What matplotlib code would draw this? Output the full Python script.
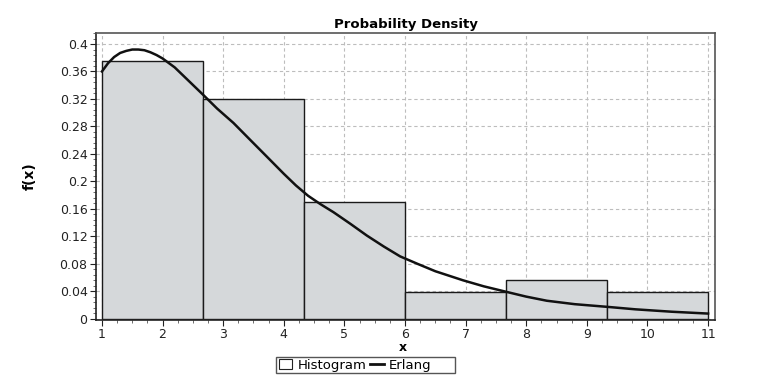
import matplotlib.pyplot as plt
from matplotlib.ticker import MultipleLocator, AutoMinorLocator
from matplotlib.patches import Patch, Rectangle
from matplotlib.lines import Line2D

# histogram bins (edges) and densities
bin_edges = [1.0, 2.6667, 4.3333, 6.0, 7.6667, 9.3333, 11.0]
hist_density = [0.376, 0.3195, 0.170, 0.0388, 0.0567, 0.0388]

# fitted Erlang curve
erlang_x = [1.0, 1.1, 1.2, 1.3, 1.4, 1.5, 1.6, 1.7, 1.8, 1.9, 2.0, 2.2, 2.4, 2.67, 2.9, 3.17,
            3.45, 3.72, 4.0, 4.2, 4.4, 4.6, 4.82, 5.1, 5.37, 5.65, 5.92, 6.2, 6.5, 6.96, 7.3,
            7.68, 8.0, 8.34, 8.8, 9.35, 9.8, 10.4, 11.0]
erlang_y = [0.360, 0.372, 0.381, 0.387, 0.390, 0.392, 0.392, 0.391, 0.388, 0.384, 0.379, 0.366,
            0.349, 0.326, 0.306, 0.285, 0.260, 0.236, 0.211, 0.194, 0.179, 0.167, 0.155,
            0.138, 0.121, 0.105, 0.0906, 0.080, 0.069, 0.0557, 0.047, 0.0388, 0.032, 0.0260,
            0.0210, 0.0170, 0.0135, 0.0100, 0.0073]

bar_fill = '#d5d8da'
edge = '#1a1a1a'

fig = plt.figure(figsize=(7.61, 3.80), dpi=100)
ax = fig.add_axes([0.126, 0.158, 0.814, 0.755])

widths = [bin_edges[i + 1] - bin_edges[i] for i in range(len(hist_density))]
ax.bar(bin_edges[:-1], hist_density, width=widths, align='edge',
       color=bar_fill, edgecolor=edge, linewidth=1.0, zorder=2)
ax.plot(erlang_x, erlang_y, color='#111111', linewidth=1.8, zorder=3)

ax.set_xlim(0.9, 11.12)
ax.set_ylim(-0.002, 0.416)
ax.xaxis.set_major_locator(MultipleLocator(1))
ax.xaxis.set_minor_locator(AutoMinorLocator(4))
ax.yaxis.set_minor_locator(AutoMinorLocator(5))
ax.set_yticks([0, 0.04, 0.08, 0.12, 0.16, 0.2, 0.24, 0.28, 0.32, 0.36, 0.4])
ax.set_yticklabels(['0', '0.04', '0.08', '0.12', '0.16', '0.2', '0.24', '0.28', '0.32', '0.36', '0.4'])

ax.grid(True, which='major', color='#bdbdbd', linestyle=(0, (3, 2.5)), linewidth=0.8, zorder=0)
ax.set_axisbelow(True)
ax.tick_params(which='major', direction='out', length=4, labelsize=9, colors='#222222', pad=2)
ax.tick_params(which='minor', direction='out', length=2, colors='#555555')

for side in ['left', 'bottom']:
    ax.spines[side].set_color('#222222')
    ax.spines[side].set_linewidth(1.2)
for side in ['top', 'right']:
    ax.spines[side].set_color('#555555')
    ax.spines[side].set_linewidth(1.2)

ax.set_title('Probability Density', fontsize=9.5, fontweight='bold', pad=4)
ax.set_xlabel('x', fontsize=9, fontweight='bold')
ax.xaxis.set_label_coords(0.496, -0.072)
ax.set_ylabel('f(x)', fontsize=10, fontweight='bold')
ax.yaxis.set_label_coords(-0.095, 0.5)

# legend box (frame drawn separately so it is as wide as in the original)
fig.patches.append(Rectangle((276 / 761, 1 - 373 / 380), 179 / 761, 16 / 380,
                             transform=fig.transFigure, facecolor='white',
                             edgecolor='#555555', linewidth=1.0, zorder=1))
handles = [Patch(facecolor='white', edgecolor='#222222', linewidth=0.8, label='Histogram'),
           Line2D([0], [0], color='#111111', linewidth=2, label='Erlang')]
leg = fig.legend(handles=handles, loc='center left', bbox_to_anchor=(279 / 761, 1 - 365 / 380),
                 ncol=2, fontsize=9.5, frameon=False,
                 handlelength=1.0, handleheight=0.8, handletextpad=0.4, columnspacing=0.3,
                 borderpad=0, borderaxespad=0)
leg.set_zorder(2)

fig.savefig('out.png', dpi=100)
